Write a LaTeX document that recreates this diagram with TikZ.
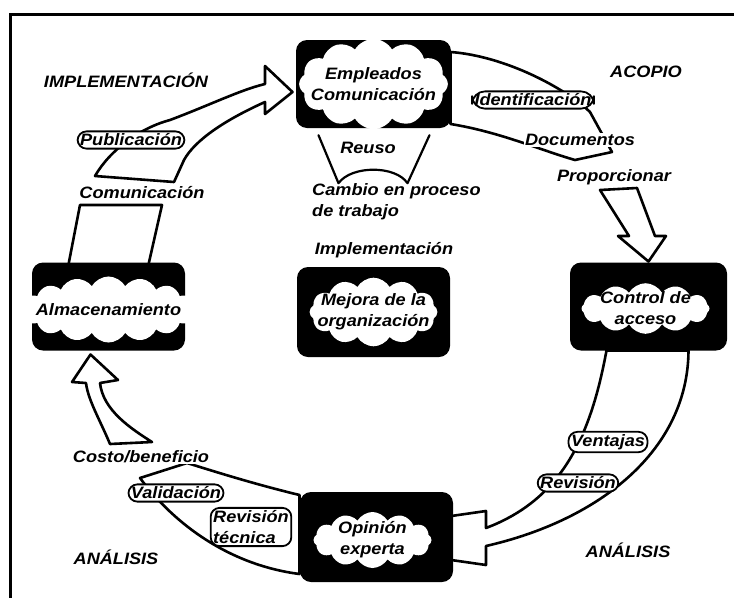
\documentclass[tikz,border=0pt]{standalone}
\usepackage{fontspec}
\setmainfont{Liberation Sans}[FakeStretch=1.1]
\usetikzlibrary{calc,shapes.symbols}
\newcommand\cyclefont{\bfseries\itshape\fontsize{16.5}{21}\selectfont}
\begin{document}
\begin{tikzpicture}[x=1pt,y=-1pt,
  stagebox/.style={fill=black, rounded corners=11pt, minimum width=#1, minimum height=88pt, inner sep=0pt},
  blob/.style n args={3}{cloud, cloud puffs=12, cloud puff arc=120, fill=white, inner sep=-12pt,
               minimum width=#1pt, minimum height=#2pt, aspect=#3, align=center, font=\cyclefont},
  flow/.style={fill=white, draw=black, line width=2.6pt, line join=round},
  lbl/.style={font=\cyclefont, inner sep=1pt, align=left},
  tag/.style={lbl, fill=white},
  ringtag/.style={lbl, fill=white, draw=black, line width=1.8pt, rounded corners=9pt, inner sep=2.5pt},
  fork/.style={draw=black, line width=2.2pt, line join=round, line cap=round}]
\useasboundingbox (0,0) rectangle (734,598);

% frame on top and left edge
\draw[line width=3pt] (734,14) -- (10,14) -- (10,598);

% stage box centres
\path (373.5,84) coordinate (top)
      (108.5,306.5) coordinate (left)
      (648.5,306.5) coordinate (right)
      (373.5,312) coordinate (mid)
      (376.5,537) coordinate (bottom);

% --- hollow block arrows ---
% Almacenamiento -> Empleados / Comunicacion
\draw[flow] ($(left)+(-40,-42)$) -- (80,205) -- (162,205) -- ($(left)+(40,-42)$) -- cycle;
\draw[flow] (95,176) .. controls (110,150) and (140,128) .. (170,120)
   .. controls (210,105) and (240,90) .. (265,84) -- (265,66)
   -- ($(top)+(-81,8)$) -- (265,114) -- (265,102)
   .. controls (225,120) and (195,140) .. (184,160) -- (174,182) -- cycle;

% Empleados / Comunicacion -> Control de acceso
\draw[flow] ($(top)+(77,-32)$) .. controls (505,56) and (565,88) .. (590,112)
   -- (612,152) -- (575,160) .. controls (540,150) and (500,132) .. ($(top)+(77,40)$) -- cycle;
\draw[flow] (600,190) -- (629,236) -- (618,236) -- ($(right)+(0,-45)$)
   -- (666,236) -- (655,236) -- (637,188) -- cycle;

% Control de acceso -> Opinion experta
\draw[flow] ($(right)+(-42,44)$) .. controls (590,440) and (560,500) .. (486,528)
   -- (486,511) -- ($(bottom)+(-78,1)$) -- (486,565) -- (486,546)
   .. controls (600,520) and (688,450) .. ($(right)+(40,44)$) -- cycle;

% Opinion experta -> Almacenamiento
\draw[flow] ($(bottom)+(-77,-42)$) .. controls (250,483) and (210,470) .. (187,463)
   -- (140,478) .. controls (175,525) and (230,565) .. ($(bottom)+(-77,37)$) -- cycle;
\draw[flow] (86,383) -- (72,382) -- ($(left)+(-18,48)$) -- (118,380) -- (100,383)
   .. controls (103,410) and (130,428) .. (152,442) -- (110,444)
   .. controls (100,420) and (88,400) .. (86,383) -- cycle;

% --- stage boxes ---
\node[stagebox=155pt] (topbox) at (top) {};
\node[blob={125}{64}{2}] at (topbox.center) {Empleados\\Comunicación};
\node[stagebox=153pt] (leftbox) at (left) {};
\node[blob={150}{42}{3.6}, cloud puffs=16] at ($(leftbox.center)+(0,3)$) {Almacenamiento};
\node[stagebox=157pt] (rightbox) at (right) {};
\node[blob={128}{50}{2.5}] at ($(rightbox.center)+(-3,2)$) {Control de\\acceso};
\node[stagebox=153pt, minimum height=90pt] (midbox) at (mid) {};
\node[blob={120}{50}{2.4}] at (midbox.center) {Mejora de la\\organización};
\node[stagebox=153pt, minimum height=90pt] (botbox) at (bottom) {};
\node[blob={118}{56}{2.1}] at ($(botbox.center)+(-4,3)$) {Opinión\\experta};

% reuse fork under the top box
\draw[fork] ($(topbox.south)+(-55,7)$) -- ($(topbox.south)+(-35,55)$)
   .. controls ($(topbox.south)+(-22,37)$) and ($(topbox.south)+(22,37)$) .. ($(topbox.south)+(34,55)$)
   -- ($(topbox.south)+(56,7)$);

% --- labels ---
\node[lbl] (impl) at (126,80) {IMPLEMENTACIÓN};
\node[lbl] (acopio) at (646,72) {ACOPIO};
\node[lbl] (anar) at (628,550) {ANÁLISIS};
\node[lbl] (anal) at (116,557) {ANÁLISIS};

\node[ringtag] (publ) at (131,140) {Publicación};
\node[tag] (comu) at (142,193) {Comunicación};
\node[tag] (reuso) at (368,148) {Reuso};
\node[lbl, anchor=west] (cambio) at (311,202) {Cambio en proceso\\de trabajo};
\node[tag] (implc) at (384,250) {Implementación};

\node[ringtag, rounded corners=13pt] (ident) at (533,100) {Identificación};
\node[tag] (docs) at (580,140) {Documentos};
\node[tag] (prop) at (614,177) {Proporcionar};

\node[ringtag] (vent) at (608,442) {Ventajas};
\node[ringtag] (revi) at (578,483) {Revisión};

\node[tag] (costo) at (141,457) {Costo/beneficio};
\node[ringtag] (valid) at (176,493) {Validación};
\node[ringtag] (revtec) at (251,527) {Revisión\\técnica};
\end{tikzpicture}
\end{document}
